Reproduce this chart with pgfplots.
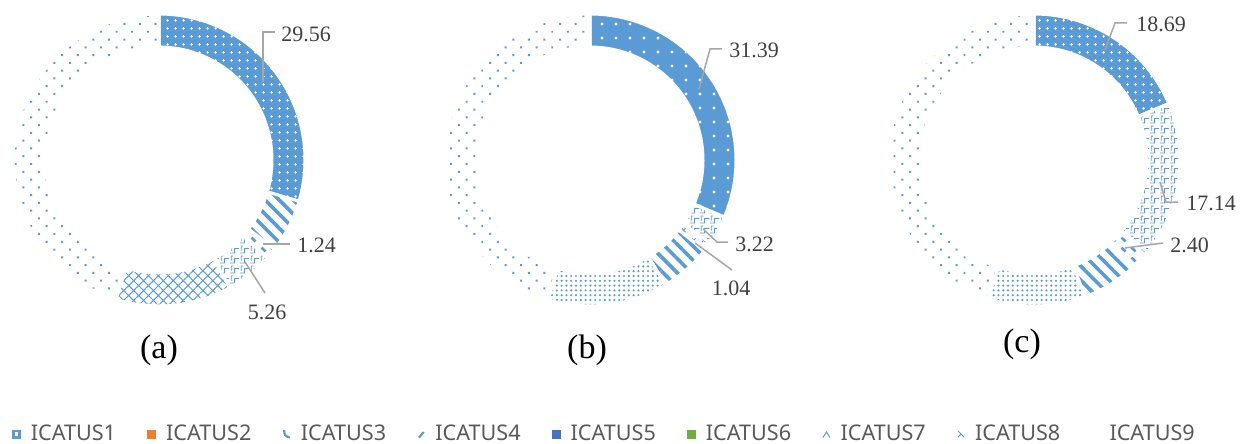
\documentclass[border=0pt]{standalone}
\usepackage{pgfplots}
\pgfplotsset{compat=1.18}
\usepackage{pgfplotstable}
\usetikzlibrary{patterns,patterns.meta}
\usepackage{fontspec}
\setmainfont{Liberation Serif}
\newfontfamily\legfont{Noto Sans}

\definecolor{cA}{HTML}{5B9BD5}
\definecolor{cOr}{HTML}{ED7D31}
\definecolor{cB5}{HTML}{4472C4}
\definecolor{cG}{HTML}{70AD47}
\definecolor{lblc}{HTML}{404040}
\definecolor{leadc}{HTML}{A6A6A6}
\definecolor{legc}{HTML}{595959}

\tikzdeclarepattern{name=weave, type=uncolored,
  bottom left={(0pt,0pt)}, top right={(5pt,5pt)}, tile size={(5pt,5pt)},
  code={\draw[line width=0.45pt] (0pt,0.5pt) -- (2.5pt,0.5pt) -- (2.5pt,3pt) -- (5pt,3pt);
        \draw[line width=0.45pt] (0.7pt,1.7pt) -- (0.7pt,4.3pt) -- (1.8pt,4.3pt);}}
\tikzdeclarepattern{name=dashes, type=uncolored,
  bottom left={(0pt,0pt)}, top right={(5pt,5pt)}, tile size={(5pt,5pt)},
  code={\draw[line width=1.4pt] (0.8pt,3.4pt) -- (3pt,1.4pt);}}
\tikzdeclarepattern{name=xmarks, type=uncolored,
  bottom left={(0pt,0pt)}, top right={(5pt,5pt)}, tile size={(5pt,5pt)},
  code={\draw[line width=0.5pt] (1pt,1pt) -- (3pt,3pt) (1pt,3pt) -- (3pt,1pt);}}

\tikzset{
  brd/.style={postaction={draw=white, line width=1.5pt}},
  seg1/.style={fill=cA, postaction={pattern={Dots[distance=4pt,radius=0.75pt]}, pattern color=white}, brd},
  seg2/.style={fill=cA, postaction={pattern={Dots[distance=7pt,radius=0.8pt]}, pattern color=white}, brd},
  seg3/.style={pattern={Lines[angle=-45,distance=5pt,line width=1.8pt]}, pattern color=cA, brd},
  seg4/.style={pattern=weave, pattern color=cA, brd},
  seg5/.style={pattern={Hatch[angle=45,distance=3.5pt,line width=0.5pt]}, pattern color=cA, brd},
  seg6/.style={pattern={Dots[distance=2.4pt,radius=0.6pt]}, pattern color=cA, brd},
  seg7/.style={pattern={Dots[distance=5.5pt,angle=45,radius=0.7pt]}, pattern color=cA, brd},
  seg8/.style={pattern=dashes, pattern color=cA, brd},
  seg9/.style={pattern=xmarks, pattern color=cA, brd},
  seg10/.style={pattern=dashes, pattern color=cA, brd},
}

% chart (a)
\pgfplotstableread{
val pat
29.56 1
5.90 3
1.24 8
5.26 4
12.80 5
45.24 7
}\dataA
% chart (b)
\pgfplotstableread{
val pat
31.39 2
3.22 4
1.04 9
5.70 3
13.30 6
45.35 7
}\dataB
% chart (c)
\pgfplotstableread{
val pat
18.69 1
17.14 4
2.40 10
6.10 3
10.80 6
44.87 7
}\dataC

\newcommand\drawdonut[3]{%
  \pgfplotstablegetrowsof{#1}%
  \pgfmathtruncatemacro\nrows{\pgfplotsretval-1}%
  \def\cum{0}%
  \pgfplotsforeachungrouped \i in {0,...,\nrows}{%
    \pgfplotstablegetelem{\i}{val}\of{#1}\let\v\pgfplotsretval
    \pgfplotstablegetelem{\i}{pat}\of{#1}\let\p\pgfplotsretval
    \pgfmathsetmacro\aA{90-3.6*\cum}%
    \pgfmathsetmacro\aB{90-3.6*(\cum+\v)}%
    \edef\temp{\noexpand\fill[seg\p] (axis cs:#2,#3) ++(\aA:73pt) arc[start angle=\aA, end angle=\aB, radius=73pt] -- ++(\aB:-16.5pt) arc[start angle=\aB, end angle=\aA, radius=56.5pt] -- cycle;}%
    \temp
    \pgfmathsetmacro\cum{\cum+\v}%
  }%
}

\tikzset{lbl/.style={inner sep=0pt, text=lblc, font=\fontsize{11}{13}\selectfont},
         ldr/.style={leadc, line width=0.75pt},
         captxt/.style={inner sep=0pt, text=black, font=\fontsize{17}{19}\selectfont}}

\begin{document}
\begin{tikzpicture}
\begin{axis}[
  x=0.5pt, y=0.5pt, xmin=0, xmax=1247, ymin=0, ymax=444, y dir=reverse,
  hide axis, clip=false,
  legend columns=9,
  legend style={at={(axis cs:12,434)}, anchor=west, draw=none, fill=none,
    inner sep=0pt, outer sep=0pt,
    nodes={inner sep=1pt},
    font=\legfont\fontsize{10.8}{12}\selectfont, text=legc,
    /tikz/every odd column/.append style={column sep=4pt},
    /tikz/every even column/.append style={column sep=14.6pt}},
  legend cell align=left,
]
\drawdonut{\dataA}{159}{160}
\drawdonut{\dataB}{590}{160}
\drawdonut{\dataC}{1034}{160}

% labels (a)
\draw[ldr] (axis cs:263,82) -- (axis cs:263,32) -- (axis cs:275,32);
\node[lbl, anchor=west] at (axis cs:281,34) {29.56};
\draw[ldr] (axis cs:263,244) -- (axis cs:290,244);
\node[lbl, anchor=west] at (axis cs:297,245) {1.24};
\draw[ldr] (axis cs:245,262) -- (axis cs:265,293);
\node[lbl] at (axis cs:267,312) {5.26};
% labels (b)
\draw[ldr] (axis cs:699,89) -- (axis cs:710,49) -- (axis cs:722,49);
\node[lbl, anchor=west] at (axis cs:729,50) {31.39};
\draw[ldr] (axis cs:703,229) -- (axis cs:717,242) -- (axis cs:728,242);
\node[lbl, anchor=west] at (axis cs:735,244) {3.22};
\draw[ldr] (axis cs:695,243) -- (axis cs:732,270);
\node[lbl] at (axis cs:731,288) {1.04};
% labels (c)
\draw[ldr] (axis cs:1105,50) -- (axis cs:1115,23) -- (axis cs:1127,23);
\node[lbl, anchor=west] at (axis cs:1136,24) {18.69};
\draw[ldr] (axis cs:1160,182) -- (axis cs:1166,202) -- (axis cs:1178,202);
\node[lbl, anchor=west] at (axis cs:1186,203) {17.14};
\draw[ldr] (axis cs:1125,248) -- (axis cs:1163,243);
\node[lbl, anchor=west] at (axis cs:1170,245) {2.40};

% captions
\node[captxt] at (axis cs:159,350) {(a)};
\node[captxt] at (axis cs:587,350) {(b)};
\node[captxt] at (axis cs:1022,344) {(c)};

% legend
\addlegendimage{legend image code/.code={\fill[cA] (0pt,-2pt) rectangle (4pt,2pt); \fill[white] (1.3pt,-0.7pt) rectangle (2.7pt,0.7pt);}}
\addlegendentry{ICATUS1}
\addlegendimage{legend image code/.code={\fill[cOr] (0pt,-2pt) rectangle (4pt,2pt);}}
\addlegendentry{ICATUS2}
\addlegendimage{legend image code/.code={\path[draw=none,fill=none] (0pt,-2pt) rectangle (4pt,2pt); \draw[cA, line width=1.1pt] (0.8pt,2pt) .. controls (1pt,-0.8pt) .. (3.6pt,-1.8pt);}}
\addlegendentry{ICATUS3}
\addlegendimage{legend image code/.code={\path[draw=none,fill=none] (0pt,-2pt) rectangle (4pt,2pt); \draw[cA, line width=1.1pt] (0.8pt,-1.8pt) -- (3.2pt,1pt);}}
\addlegendentry{ICATUS4}
\addlegendimage{legend image code/.code={\fill[cB5] (0pt,-2pt) rectangle (4pt,2pt);}}
\addlegendentry{ICATUS5}
\addlegendimage{legend image code/.code={\fill[cG] (0pt,-2pt) rectangle (4pt,2pt);}}
\addlegendentry{ICATUS6}
\addlegendimage{legend image code/.code={\path[draw=none,fill=none] (0pt,-2pt) rectangle (4pt,2pt); \draw[cA, line width=0.5pt] (0.2pt,-1.8pt) -- (2pt,1pt) -- (3.8pt,-1.8pt);}}
\addlegendentry{ICATUS7}
\addlegendimage{legend image code/.code={\path[draw=none,fill=none] (0pt,-2pt) rectangle (4pt,2pt); \draw[cA, line width=0.5pt] (0.5pt,1.5pt) -- (3.5pt,-1.5pt) (0.5pt,-1.5pt) -- (2pt,0pt);}}
\addlegendentry{ICATUS8}
\addlegendimage{legend image code/.code={\path[draw=none,fill=none] (0pt,-2pt) rectangle (4pt,2pt);}}
\addlegendentry{ICATUS9}
\end{axis}
\pgfresetboundingbox
\path (0,0) rectangle (623.5pt,222pt);
\end{tikzpicture}
\end{document}
